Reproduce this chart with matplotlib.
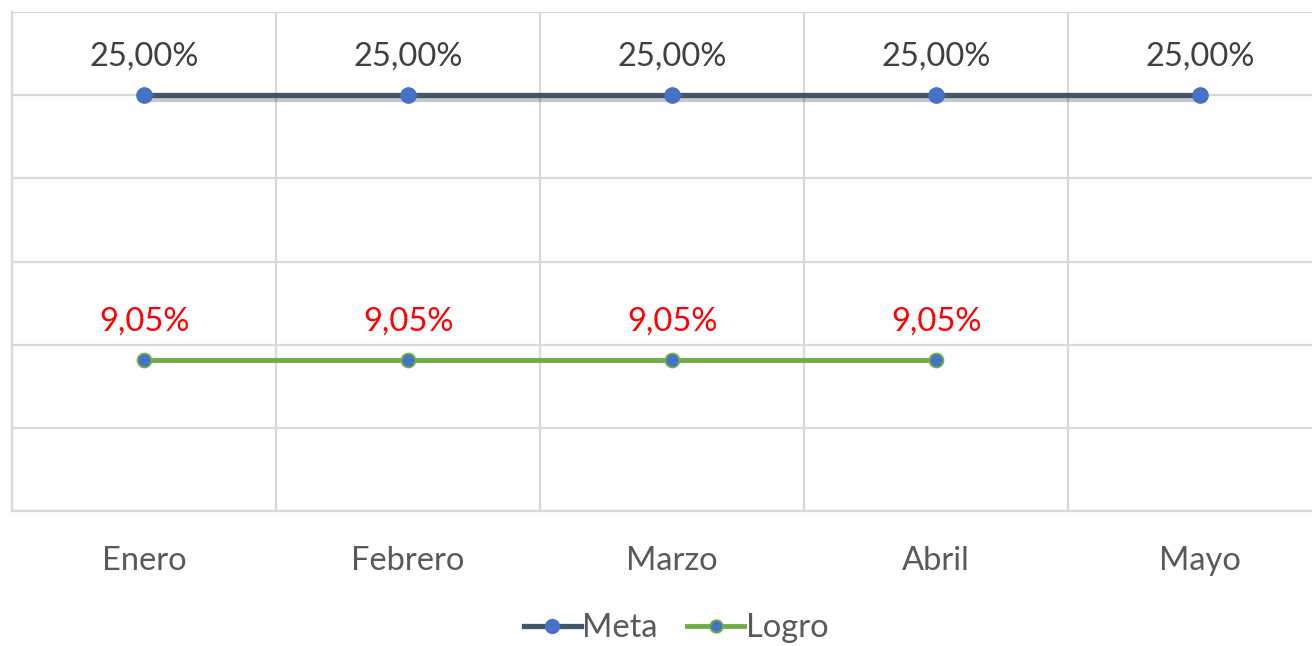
import matplotlib
matplotlib.use("Agg")
import matplotlib.pyplot as plt
import matplotlib.patheffects as pe
from matplotlib.lines import Line2D
import numpy as np

months = ["Enero", "Febrero", "Marzo", "Abril", "Mayo"]
meta = [25.00, 25.00, 25.00, 25.00, 25.00]
logro = [9.05, 9.05, 9.05, 9.05]
meta_labels = ["25,00%"] * 5
logro_labels = ["9,05%"] * 4

plt.rcParams['font.family'] = ['Lato', 'DejaVu Sans']

W, H = 1312, 646
fig = plt.figure(figsize=(W/100, H/100), dpi=100)
ax = fig.add_axes([12/W, 135/H, 1320/W, 499/H])
ax.set_xlim(-0.5, 4.5)
ax.set_ylim(0, 30)

grid_c = "#D9D9D9"
ax.set_yticks(np.arange(0, 31, 5))
ax.set_xticks(range(len(months)))
ax.set_xticks(np.arange(-0.5, 5, 1), minor=True)
ax.grid(True, axis='y', which='major', color=grid_c, lw=1.6)
ax.grid(True, axis='x', which='minor', color=grid_c, lw=1.6)
ax.set_axisbelow(True)
for s in ['top', 'right']:
    ax.spines[s].set_visible(False)
for s in ['left', 'bottom']:
    ax.spines[s].set_color(grid_c)
    ax.spines[s].set_linewidth(1.6)
ax.tick_params(axis='y', left=False, labelleft=False)
ax.tick_params(axis='x', which='both', bottom=False, length=0, pad=25)
ax.set_xticklabels(months, fontsize=23.5, color="#595959")

meta_line = "#44546A"
logro_line = "#70AD47"
mk = "#4472C4"

xm = np.arange(len(meta))
xl = np.arange(len(logro))
ax.plot(xm, meta, color=meta_line, lw=3.8, zorder=3, solid_capstyle='butt',
        path_effects=[pe.SimpleLineShadow(offset=(2, -3), shadow_color='k', alpha=0.22), pe.Normal()])
ax.plot(xm, meta, ls='none', marker='o', ms=11, mfc=mk, mec=mk, zorder=4)
ax.plot(xl, logro, color=logro_line, lw=3.5, marker='o', ms=10,
        mfc=mk, mec=logro_line, mew=1.3, zorder=3)

for x, y, t in zip(xm, meta, meta_labels):
    ax.annotate(t, (x, y), xytext=(0, 39), textcoords='offset pixels',
                ha='center', va='center', fontsize=23.5, color="#404040")
for x, y, t in zip(xl, logro, logro_labels):
    ax.annotate(t, (x, y), xytext=(0, 39), textcoords='offset pixels',
                ha='center', va='center', fontsize=23.5, color="#FF0000")

handles = [Line2D([], [], color=meta_line, lw=3.8, marker='o', ms=10, mfc=mk, mec=mk),
           Line2D([], [], color=logro_line, lw=3.5, marker='o', ms=9, mfc=mk, mec=logro_line, mew=1.3)]
fig.legend(handles, ["Meta", "Logro"], loc='center', bbox_to_anchor=(676/W, (646-628)/H), ncol=2,
           frameon=False, fontsize=23.5, labelcolor="#595959",
           handlelength=1.75, handletextpad=0.05, columnspacing=0.9)

fig.savefig("out.png", dpi=100)
